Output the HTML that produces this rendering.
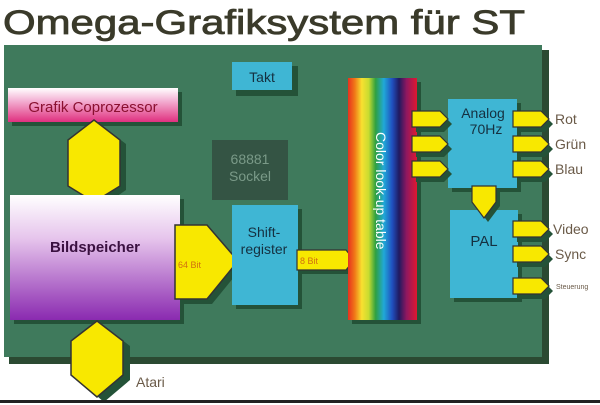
<!DOCTYPE html>
<html><head><meta charset="utf-8"><style>
html,body{margin:0;padding:0;background:#fff;width:600px;height:405px;overflow:hidden}
svg{display:block}
text{font-family:"Liberation Sans",sans-serif}
</style></head><body>
<svg width="600" height="405" viewBox="0 0 600 405" xmlns="http://www.w3.org/2000/svg">
<defs>
<linearGradient id="pink" x1="0" y1="0" x2="0" y2="1"><stop offset="0" stop-color="#fff"/><stop offset="0.35" stop-color="#f4b6d6"/><stop offset="1" stop-color="#e0307f"/></linearGradient>
<linearGradient id="purp" x1="0" y1="0" x2="0" y2="1"><stop offset="0" stop-color="#fff"/><stop offset="0.35" stop-color="#e6c4ec"/><stop offset="1" stop-color="#8a2ab0"/></linearGradient>
<linearGradient id="rain" x1="0" y1="0" x2="1" y2="0">
<stop offset="0" stop-color="#e8301e"/><stop offset="0.1" stop-color="#f07a18"/><stop offset="0.2" stop-color="#f8e030"/><stop offset="0.3" stop-color="#c8dc30"/><stop offset="0.4" stop-color="#30a040"/><stop offset="0.52" stop-color="#20a8d8"/><stop offset="0.64" stop-color="#2050c0"/><stop offset="0.74" stop-color="#201a60"/><stop offset="0.85" stop-color="#901860"/><stop offset="1" stop-color="#e01830"/></linearGradient>
</defs>
<text x="3" y="34" font-size="34" fill="#3a3a2a" stroke="#3a3a2a" stroke-width="0.8" textLength="522" lengthAdjust="spacingAndGlyphs">Omega-Grafiksystem für ST</text>
<rect x="9" y="50" width="540" height="314" fill="#2b4a32"/>
<rect x="4" y="45" width="538" height="312" fill="#3f7a5c"/>
<rect x="236" y="66" width="62" height="30" fill="#245238"/>
<rect x="232" y="62" width="60" height="28" fill="#3fb6d4"/>
<text x="262" y="82" font-size="14" text-anchor="middle" fill="#153040">Takt</text>
<rect x="12" y="92" width="170" height="34" fill="#245238"/>
<rect x="8" y="88" width="170" height="34" fill="url(#pink)"/>
<text x="93" y="112" font-size="15" text-anchor="middle" fill="#8a1030">Grafik Coprozessor</text>
<polygon points="100,124 126,144 126,190 100,208 74,190 74,144" fill="#245238"/>
<polygon points="94,120 120,140 120,186 94,202 68,186 68,140" fill="#f8e800" stroke="#333" stroke-width="1.5"/>
<rect x="212" y="140" width="76" height="60" fill="#345444"/>
<text x="250" y="164" font-size="14" text-anchor="middle" fill="#7a9a88">68881</text>
<text x="250" y="181" font-size="14" text-anchor="middle" fill="#7a9a88">Sockel</text>
<rect x="14" y="199" width="170" height="125" fill="#245238"/>
<rect x="10" y="195" width="170" height="125" fill="url(#purp)"/>
<text x="95" y="252" font-size="15" font-weight="bold" text-anchor="middle" fill="#3a1040">Bildspeicher</text>
<polygon points="180,230 212,230 243,266 212,304 180,304" fill="#245238"/>
<polygon points="175,225 207,225 238,261 207,299 175,299" fill="#f8e800" stroke="#333" stroke-width="1.5"/>
<text x="178" y="268" font-size="9" fill="#d07010">64 Bit</text>
<rect x="236" y="209" width="66" height="100" fill="#245238"/>
<rect x="232" y="205" width="66" height="100" fill="#3fb6d4"/>
<text x="264" y="237" font-size="14" text-anchor="middle" fill="#153040">Shift-</text>
<text x="264" y="254" font-size="14" text-anchor="middle" fill="#153040">register</text>
<polygon points="301,254 350,254 358,264 350,274 301,274" fill="#245238"/>
<polygon points="297,250 346,250 354,260 346,270 297,270" fill="#f8e800" stroke="#333" stroke-width="1.2"/>
<text x="300" y="264" font-size="9" fill="#d07010">8 Bit</text>
<rect x="352" y="82" width="69" height="242" fill="#245238"/>
<rect x="348" y="78" width="69" height="242" fill="url(#rain)"/>
<text transform="translate(376,132) rotate(90)" font-size="14" fill="#fff">Color look-up table</text>
<rect x="452" y="103" width="69" height="89" fill="#245238"/>
<rect x="448" y="99" width="69" height="89" fill="#3fb6d4"/>
<text x="483" y="118" font-size="14" text-anchor="middle" fill="#153040">Analog</text>
<text x="486" y="134" font-size="14" text-anchor="middle" fill="#153040">70Hz</text>
<rect x="454" y="214" width="68" height="88" fill="#245238"/>
<rect x="450" y="210" width="68" height="88" fill="#3fb6d4"/>
<text x="484" y="246" font-size="15" text-anchor="middle" fill="#153040">PAL</text>
<polygon points="476,190 500,190 500,206 488,222 476,206" fill="#245238"/>
<polygon points="472,186 496,186 496,202 484,218 472,202" fill="#f8e800" stroke="#333" stroke-width="1.2"/>
<g stroke="#333" stroke-width="1.2">
<g fill="#245238" stroke="none">
<polygon points="416,116 444,116 452,124 444,132 416,132"/>
<polygon points="416,141 444,141 452,149 444,157 416,157"/>
<polygon points="416,166 444,166 452,174 444,182 416,182"/>
<polygon points="517,116 545,116 553,124 545,132 517,132"/>
<polygon points="517,141 545,141 553,149 545,157 517,157"/>
<polygon points="517,166 545,166 553,174 545,182 517,182"/>
<polygon points="517,226 545,226 553,234 545,242 517,242"/>
<polygon points="517,251 545,251 553,259 545,267 517,267"/>
<polygon points="517,283 545,283 553,291 545,299 517,299"/>
</g>
<g fill="#f8e800">
<polygon points="412,111 440,111 448,119 440,127 412,127"/>
<polygon points="412,136 440,136 448,144 440,152 412,152"/>
<polygon points="412,161 440,161 448,169 440,177 412,177"/>
<polygon points="513,111 541,111 549,119 541,127 513,127"/>
<polygon points="513,136 541,136 549,144 541,152 513,152"/>
<polygon points="513,161 541,161 549,169 541,177 513,177"/>
<polygon points="513,221 541,221 549,229 541,237 513,237"/>
<polygon points="513,246 541,246 549,254 541,262 513,262"/>
<polygon points="513,278 541,278 549,286 541,294 513,294"/>
</g></g>
<g font-size="14" fill="#6a5a48">
<text x="555" y="124">Rot</text>
<text x="555" y="149">Grün</text>
<text x="555" y="174">Blau</text>
<text x="553" y="234">Video</text>
<text x="555" y="259">Sync</text>
<text x="556" y="289" font-size="7">Steuerung</text>
<text x="136" y="387">Atari</text>
</g>
<polygon points="104,326 130,346 130,380 104,402 78,380 78,346" fill="#245238"/>
<polygon points="97,321 123,341 123,375 97,397 71,375 71,341" fill="#f8e800" stroke="#333" stroke-width="1.5"/>
<rect x="0" y="400" width="600" height="3" fill="#222"/>
</svg>
</body></html>
